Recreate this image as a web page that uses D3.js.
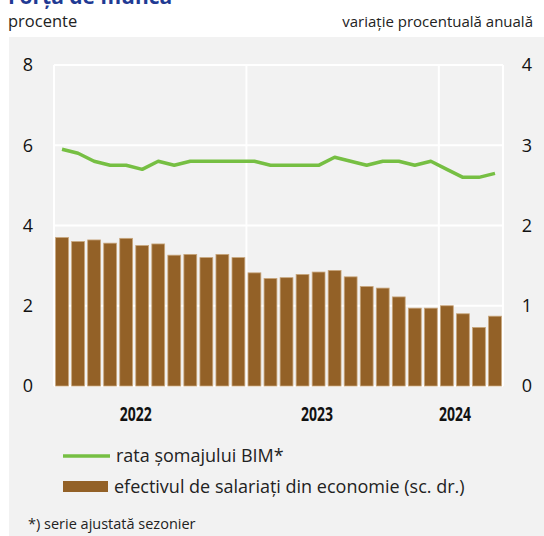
<!DOCTYPE html>
<html>
<head>
<meta charset="utf-8">
<script src="https://cdn.jsdelivr.net/npm/d3@7"></script>
<style>
  body { margin: 0; background: #fff; }
  svg { display: block; font-family: "Open Sans", "Noto Sans", sans-serif; }
</style>
</head>
<body>
<svg width="544" height="536"></svg>
<script>
// monthly, Jan 2022 - Apr 2024
const months = d3.range(28);
// rata somajului BIM (left axis, %)
const unemployment = [5.9, 5.8, 5.6, 5.5, 5.5, 5.4, 5.6, 5.5, 5.6, 5.6, 5.6, 5.6, 5.6, 5.5,
  5.5, 5.5, 5.5, 5.7, 5.6, 5.5, 5.6, 5.6, 5.5, 5.6, 5.4, 5.2, 5.2, 5.3];
// efectivul de salariati (right axis, % yoy)
const employees = [1.85, 1.8, 1.82, 1.78, 1.84, 1.75, 1.77, 1.63, 1.64, 1.6, 1.64, 1.6, 1.41, 1.34,
  1.35, 1.39, 1.42, 1.44, 1.36, 1.24, 1.22, 1.11, 0.97, 0.97, 1.0, 0.9, 0.73, 0.87];
const leftTicks = [0, 2, 4, 6, 8];
const rightTicks = [0, 1, 2, 3, 4];
const yearLabels = ['2022', '2023', '2024'];
const yearLabelPos = [4.6, 15.9, 24.5];   // month index where the label sits
const yearBounds = [0, 12, 24, 28];        // gridlines between years

const svg = d3.select('svg');
const [plotL, plotR, plotT, plotB] = [54, 503, 65, 386];

svg.append('rect')
  .attr('x', 9).attr('y', 37)
  .attr('width', 535).attr('height', 499)
  .attr('fill', '#f2f2f2');

// title, mostly cropped off the top
svg.append('text')
  .attr('x', 8).attr('y', 4)
  .attr('font-size', 21).attr('font-weight', 'bold')
  .attr('fill', '#1f3a93')
  .text('Forța de muncă');

svg.append('text')
  .attr('x', 8).attr('y', 27)
  .attr('font-size', 16.5).attr('fill', '#222')
  .text('procente');

svg.append('text')
  .attr('x', 533).attr('y', 27)
  .attr('text-anchor', 'end')
  .attr('font-size', 15).attr('fill', '#222')
  .text('variație procentuală anuală');

const x = d3.scaleBand()
  .domain(months)
  .range([plotL, plotR])
  .paddingInner(0.2)
  .paddingOuter(0.1);

const xEdge = d3.scaleLinear().domain([0, 28]).range([plotL, plotR]);

const yLeft = d3.scaleLinear().domain([0, 8]).range([plotB, plotT]);
const yRight = d3.scaleLinear().domain([0, 4]).range([plotB, plotT]);

// gridlines
const grid = svg.append('g');
grid.selectAll('.h').data(leftTicks).join('line')
  .attr('x1', plotL).attr('x2', plotR)
  .attr('y1', d => yLeft(d)).attr('y2', d => yLeft(d))
  .attr('stroke', '#fff').attr('stroke-width', 2);
grid.selectAll('.v').data(yearBounds).join('line')
  .attr('x1', d => xEdge(d)).attr('x2', d => xEdge(d))
  .attr('y1', plotT).attr('y2', plotB)
  .attr('stroke', '#fff').attr('stroke-width', 2);

// axes
const axisLeft = svg.append('g')
  .attr('transform', `translate(${plotL - 26},0)`)
  .call(d3.axisLeft(yLeft).tickValues(leftTicks).tickSize(0).tickPadding(0).tickFormat(d3.format('d')));
const axisRight = svg.append('g')
  .attr('transform', `translate(${plotR + 24},0)`)
  .call(d3.axisRight(yRight).tickValues(rightTicks).tickSize(0).tickPadding(0).tickFormat(d3.format('d')));
[axisLeft, axisRight].forEach(a => {
  a.select('.domain').remove();
  a.selectAll('text')
    .attr('font-size', 18)
    .attr('font-family', '"Open Sans", sans-serif')
    .attr('fill', '#111')
    .attr('text-anchor', 'middle');
});

// bars
svg.append('g').selectAll('rect')
  .data(employees)
  .join('rect')
  .attr('x', (d, i) => x(i))
  .attr('y', d => yRight(d))
  .attr('width', x.bandwidth())
  .attr('height', d => plotB - yRight(d))
  .attr('fill', '#936127')
  .attr('stroke', '#c8a67c')
  .attr('stroke-width', 0.8);

// line
const line = d3.line()
  .x((d, i) => x(i) + x.bandwidth() / 2)
  .y(d => yLeft(d));

svg.append('path')
  .datum(unemployment)
  .attr('d', line)
  .attr('fill', 'none')
  .attr('stroke', '#76bf43')
  .attr('stroke-width', 3.5)
  .attr('stroke-linejoin', 'round');

// year labels (narrow bold in the original)
svg.append('g').selectAll('text')
  .data(yearLabels)
  .join('text')
  .attr('x', (d, i) => xEdge(yearLabelPos[i] + 0.5) - 16)
  .attr('y', 421)
  .attr('font-weight', 'bold')
  .attr('font-size', 19.5)
  .attr('textLength', 32)
  .attr('lengthAdjust', 'spacingAndGlyphs')
  .attr('fill', '#111')
  .text(d => d);

// legend
const legend = svg.append('g');
legend.append('line')
  .attr('x1', 63).attr('x2', 110)
  .attr('y1', 456).attr('y2', 456)
  .attr('stroke', '#76bf43').attr('stroke-width', 3.5);
legend.append('text')
  .attr('x', 116).attr('y', 462)
  .attr('font-size', 18).attr('fill', '#222')
  .text('rata șomajului BIM*');
legend.append('rect')
  .attr('x', 63).attr('y', 481)
  .attr('width', 45).attr('height', 11)
  .attr('fill', '#936127');
legend.append('text')
  .attr('x', 114).attr('y', 493)
  .attr('font-size', 18).attr('fill', '#222')
  .text('efectivul de salariați din economie (sc. dr.)');

svg.append('text')
  .attr('x', 28).attr('y', 529)
  .attr('font-size', 14.5).attr('fill', '#222')
  .text('*) serie ajustată sezonier');
</script>
</body>
</html>
